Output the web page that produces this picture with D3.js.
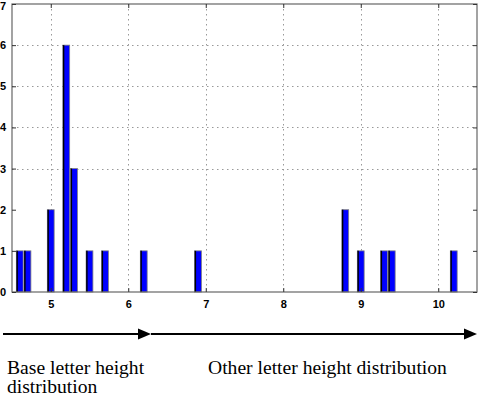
<!DOCTYPE html>
<html><head><meta charset="utf-8">
<script src="https://cdn.jsdelivr.net/npm/d3@7"></script>
<style>
html,body{margin:0;padding:0;background:#fff;}
svg{display:block;}
</style></head>
<body>
<script>
// Data
const binCenters = [4.6, 4.7, 5.0, 5.2, 5.3, 5.5, 5.7, 6.2, 6.9, 8.8, 9.0, 9.3, 9.4, 10.2];
const counts     = [1,   1,   2,   6,   3,   1,   1,   1,   1,   2,   1,   1,   1,   1];
const xTicks = [5, 6, 7, 8, 9, 10];
const yTicks = [0, 1, 2, 3, 4, 5, 6, 7];
const hGridValues = [3, 4, 5, 6];
const captions = ["Base letter height", "distribution", "Other letter height distribution"];

const W = 478, H = 398;
const svg = d3.select("body").append("svg").attr("width", W).attr("height", H);

const x = d3.scaleLinear().domain([4.5, 10.5]).range([12, 477]);
const y = d3.scaleLinear().domain([0, 7]).range([292, 4]);
const barW = x(4.5 + 0.088) - x(4.5);

// grid
const grid = svg.append("g");
grid.selectAll("line.v").data(xTicks).join("line")
  .attr("x1", d => Math.round(x(d)) + 0.5).attr("x2", d => Math.round(x(d)) + 0.5)
  .attr("y1", y(7)).attr("y2", y(0))
  .attr("stroke", "#999").attr("stroke-width", 1).attr("stroke-dasharray", "1.5,3.5");
grid.selectAll("line.h").data(hGridValues).join("line")
  .attr("x1", x(4.5)).attr("x2", x(10.5))
  .attr("y1", d => Math.round(y(d)) + 0.5).attr("y2", d => Math.round(y(d)) + 0.5)
  .attr("stroke", "#999").attr("stroke-width", 1).attr("stroke-dasharray", "1.5,3.5");

// bars
const bars = svg.append("g");
bars.selectAll("rect").data(binCenters).join("rect")
  .attr("x", d => x(d) - barW / 2)
  .attr("y", (d, i) => y(counts[i]))
  .attr("width", barW)
  .attr("height", (d, i) => y(0) - y(counts[i]))
  .attr("fill", "#0000ff")
  .attr("stroke", "#808080").attr("stroke-width", 0.8);
bars.selectAll("line").data(binCenters).join("line")
  .attr("x1", d => x(d) - barW / 2 + 0.8).attr("x2", d => x(d) - barW / 2 + 0.8)
  .attr("y1", (d, i) => y(counts[i])).attr("y2", y(0))
  .attr("stroke", "#000").attr("stroke-width", 1.4);

// frame
svg.append("rect").attr("x", x(4.5)).attr("y", y(7)).attr("width", x(10.5) - x(4.5)).attr("height", y(0) - y(7))
  .attr("fill", "none").attr("stroke", "#666").attr("stroke-width", 1.2);

// axes (inward ticks)
const fontAxis = "'Liberation Sans', Arial, sans-serif";
const xAxis = d3.axisBottom(x).tickValues(xTicks).tickSize(-4).tickPadding(8).tickFormat(d3.format("d"));
const gx = svg.append("g").attr("transform", `translate(0,${y(0)})`).call(xAxis);
gx.select(".domain").remove();
gx.selectAll(".tick line").attr("stroke", "#333");
gx.selectAll("text").attr("font-family", fontAxis).attr("font-size", 11).attr("font-weight", "bold").attr("fill", "#000");

const xAxisTop = d3.axisTop(x).tickValues(xTicks).tickSize(-4).tickFormat("");
const gxt = svg.append("g").attr("transform", `translate(0,${y(7)})`).call(xAxisTop);
gxt.select(".domain").remove();
gxt.selectAll(".tick line").attr("stroke", "#333");

const yAxis = d3.axisLeft(y).tickValues(yTicks).tickSize(-4).tickPadding(6).tickFormat(d3.format("d"));
const gy = svg.append("g").attr("transform", `translate(${x(4.5)},0)`).call(yAxis);
gy.select(".domain").remove();
gy.selectAll(".tick line").attr("stroke", "#333");
gy.selectAll("text").attr("font-family", fontAxis).attr("font-size", 11).attr("font-weight", "bold").attr("fill", "#000");
// keep the top label just inside the picture
gy.selectAll(".tick").filter(d => d === 7).select("text").attr("dy", "0.5em");

const yAxisR = d3.axisRight(y).tickValues(yTicks).tickSize(-4).tickFormat("");
const gyr = svg.append("g").attr("transform", `translate(${x(10.5)},0)`).call(yAxisR);
gyr.select(".domain").remove();
gyr.selectAll(".tick line").attr("stroke", "#333");

// arrows
const arrowY = 334;
const arrows = [[3, 151], [151, 477]];
const ag = svg.append("g");
arrows.forEach(([a, b]) => {
  ag.append("line").attr("x1", a).attr("x2", b - 8).attr("y1", arrowY).attr("y2", arrowY)
    .attr("stroke", "#000").attr("stroke-width", 2);
  ag.append("path").attr("d", `M${b},${arrowY} L${b - 13},${arrowY - 5.5} L${b - 13},${arrowY + 5.5} Z`).attr("fill", "#000");
});

// captions
const fontCap = "'Liberation Serif', 'Times New Roman', serif";
svg.append("text").attr("x", 7).attr("y", 374).text(captions[0])
  .attr("font-family", fontCap).attr("font-size", 19.6).attr("fill", "#000");
svg.append("text").attr("x", 7).attr("y", 393).text(captions[1])
  .attr("font-family", fontCap).attr("font-size", 19.6).attr("fill", "#000");
svg.append("text").attr("x", 208).attr("y", 374).text(captions[2])
  .attr("font-family", fontCap).attr("font-size", 19.6).attr("fill", "#000");
</script>
</body></html>
